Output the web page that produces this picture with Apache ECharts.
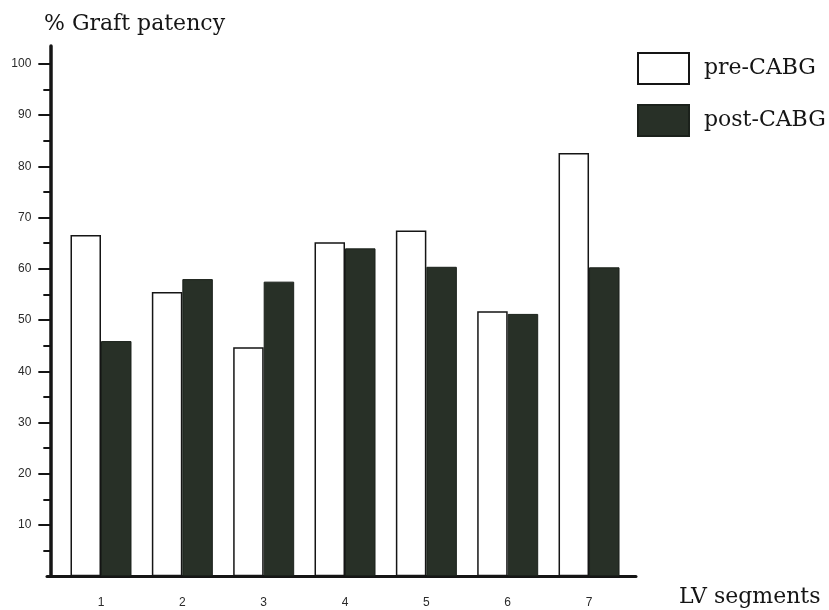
<!DOCTYPE html>
<html>
<head>
<meta charset="utf-8">
<script src="https://cdn.jsdelivr.net/npm/echarts@6/dist/echarts.min.js"></script>
<style>
  html, body { margin: 0; padding: 0; background: #ffffff; }
  #chart { width: 829px; height: 610px; }
</style>
</head>
<body>
<div id="chart"></div>
<script>
// LV segments and graft patency (%) before and after CABG
const segments = ['1', '2', '3', '4', '5', '6', '7'];
const preCABG = [66.6, 55.5, 44.7, 65.2, 67.5, 51.7, 82.6];
const postCABG = [45.9, 58.0, 57.5, 64.0, 60.4, 51.2, 60.3];
const yMajorTicks = [10, 20, 30, 40, 50, 60, 70, 80, 90, 100];
const yMinorTicks = [5, 15, 25, 35, 45, 55, 65, 75, 85, 95];
const yMax = 103.5;

const serif = 'DejaVu Serif';
const ink = '#151515';
const darkFill = '#283027';

const chart = echarts.init(document.getElementById('chart'), null, { renderer: 'canvas' });

const plotTop = 46;
const plotBottom = 33.8;

chart.setOption({
  animation: false,
  backgroundColor: '#ffffff',
  title: {
    text: '% Graft patency',
    left: 44,
    top: 13,
    padding: 0,
    textStyle: { fontFamily: serif, fontSize: 22, fontWeight: 'normal', color: ink, lineHeight: 22 }
  },
  legend: {
    orient: 'vertical',
    left: 637,
    top: 52,
    padding: 0,
    itemWidth: 51,
    itemHeight: 31,
    itemGap: 19,
    icon: 'rect',
    textStyle: { fontFamily: serif, fontSize: 22, color: ink, padding: [0, 0, 0, 10] },
    data: ['pre-CABG', 'post-CABG']
  },
  grid: [
    // bars
    { left: 60.33, right: 199.3, top: plotTop, bottom: plotBottom },
    // full-length baseline
    { left: 47, right: 193, top: plotTop, bottom: plotBottom },
    // minor y ticks
    { left: 50.33, right: 199.3, top: plotTop, bottom: plotBottom }
  ],
  xAxis: [
    {
      type: 'category',
      gridIndex: 0,
      data: segments,
      axisLine: { show: false },
      axisTick: { show: false },
      axisLabel: { margin: 20, fontFamily: 'Liberation Sans', fontSize: 12, color: '#2a2a2a' },
      splitLine: { show: false }
    },
    {
      type: 'value',
      gridIndex: 1,
      min: 0,
      max: 1,
      axisLine: { show: true, lineStyle: { color: ink, width: 3 } },
      axisTick: { show: false },
      axisLabel: { show: false },
      splitLine: { show: false },
      name: 'LV segments',
      nameLocation: 'end',
      nameGap: 43,
      nameTextStyle: { fontFamily: serif, fontSize: 22, color: ink, verticalAlign: 'top', lineHeight: 22, padding: [10, 0, 0, 0] }
    },
    {
      type: 'value',
      gridIndex: 2,
      min: 0,
      max: 1,
      show: false
    }
  ],
  yAxis: [
    {
      type: 'value',
      gridIndex: 0,
      min: 0,
      max: yMax,
      offset: 10,
      axisLine: { show: true, lineStyle: { color: ink, width: 3.5 } },
      axisTick: { show: true, customValues: yMajorTicks, length: 12, lineStyle: { color: ink, width: 2 } },
      axisLabel: {
        customValues: yMajorTicks,
        margin: 19,
        fontFamily: 'Liberation Sans',
        fontSize: 12,
        color: '#2a2a2a',
        padding: [0, 0, 9, 0]
      },
      splitLine: { show: false }
    },
    {
      type: 'value',
      gridIndex: 1,
      min: 0,
      max: yMax,
      show: false
    },
    {
      type: 'value',
      gridIndex: 2,
      min: 0,
      max: yMax,
      axisLine: { show: false },
      axisTick: { show: true, customValues: yMinorTicks, length: 7, lineStyle: { color: ink, width: 2 } },
      axisLabel: { show: false },
      splitLine: { show: false }
    }
  ],
  series: [
    {
      name: 'pre-CABG',
      type: 'bar',
      xAxisIndex: 0,
      yAxisIndex: 0,
      data: preCABG,
      barWidth: 30.5,
      barGap: '0%',
      itemStyle: { color: '#ffffff', borderColor: ink, borderWidth: 1.5 }
    },
    {
      name: 'post-CABG',
      type: 'bar',
      xAxisIndex: 0,
      yAxisIndex: 0,
      data: postCABG,
      barWidth: 30.5,
      barGap: '0%',
      itemStyle: { color: darkFill, borderColor: '#1b211b', borderWidth: 1 }
    }
  ]
});
</script>
</body>
</html>
